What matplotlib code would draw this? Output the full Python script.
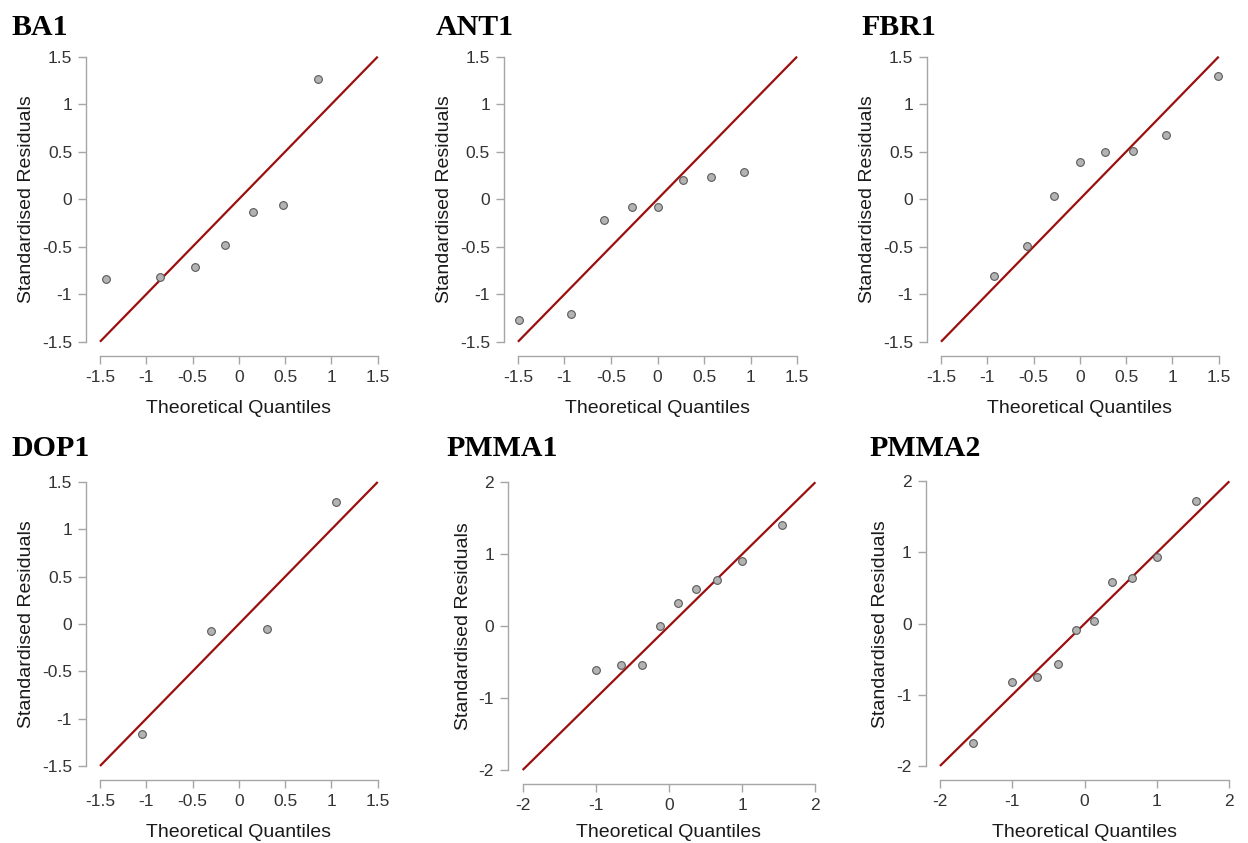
import matplotlib
matplotlib.use("Agg")
import matplotlib.pyplot as plt

# Normal Q-Q data per sample: theoretical quantiles and standardised residuals
ba1_x = [-1.434, -0.852, -0.473, -0.153, 0.153, 0.473, 0.852]
ba1_y = [-0.844, -0.816, -0.714, -0.479, -0.139, -0.065, 1.268]

ant1_x = [-1.494, -0.932, -0.572, -0.275, 0.0, 0.275, 0.572, 0.932]
ant1_y = [-1.272, -1.209, -0.219, -0.086, -0.079, 0.202, 0.237, 0.282]

fbr1_x = [-0.932, -0.572, -0.275, 0.0, 0.275, 0.572, 0.932, 1.494]
fbr1_y = [-0.805, -0.493, 0.033, 0.391, 0.497, 0.507, 0.679, 1.296]

dop1_x = [-1.049, -0.299, 0.299, 1.049]
dop1_y = [-1.162, -0.077, -0.049, 1.285]

pmma1_x = [-1.001, -0.655, -0.375, -0.123, 0.123, 0.375, 0.655, 1.001, 1.546]
pmma1_y = [-0.605, -0.540, -0.535, 0.002, 0.322, 0.512, 0.647, 0.911, 1.407]

pmma2_x = [-1.546, -1.001, -0.655, -0.375, -0.123, 0.123, 0.375, 0.655, 1.001, 1.546]
pmma2_y = [-1.677, -0.820, -0.749, -0.571, -0.084, 0.042, 0.585, 0.646, 0.937, 1.724]

titles = ["BA1", "ANT1", "FBR1", "DOP1", "PMMA1", "PMMA2"]
ticks_15 = [-1.5, -1, -0.5, 0, 0.5, 1, 1.5]
tick_labels_15 = ["-1.5", "-1", "-0.5", "0", "0.5", "1", "1.5"]
ticks_2 = [-2, -1, 0, 1, 2]
tick_labels_2 = ["-2", "-1", "0", "1", "2"]

W, H = 1248, 843
fig = plt.figure(figsize=(W / 100, H / 100), dpi=100)

# panel boxes in pixels: left, right, top, bottom; title anchor (x, baseline y);
# x-label padding
panels = [
    (ba1_x, ba1_y, 1.5, (86.1, 391.6, 42.4, 356.0), (12, 35), 11),
    (ant1_x, ant1_y, 1.5, (504.0, 811.0, 42.4, 356.0), (436, 35), 11),
    (fbr1_x, fbr1_y, 1.5, (927.1, 1232.6, 42.4, 356.0), (861, 35), 11),
    (dop1_x, dop1_y, 1.5, (86.1, 391.6, 467.8, 780.2), (12, 456), 11),
    (pmma1_x, pmma1_y, 2.0, (508.0, 830.0, 467.9, 784.4), (446, 456), 7.5),
    (pmma2_x, pmma2_y, 2.0, (925.5, 1243.8, 467.1, 780.2), (869, 456), 11),
]

spine_col = "#a6a6a6"
text_col = "#333333"

for (xs, ys, lim, box, tpos, xpad), title in zip(panels, titles):
    l, r, t, b = box
    ax = fig.add_axes([l / W, 1 - b / H, (r - l) / W, (b - t) / H])
    pad = lim * 2 * 0.05
    ax.set_xlim(-lim - pad, lim + pad)
    ax.set_ylim(-lim - pad, lim + pad)

    ax.plot([-lim, lim], [-lim, lim], color="#9b0f0f", lw=1.6, zorder=2,
            solid_capstyle="butt")
    ax.scatter(xs, ys, s=31, facecolor="#b3b3b3", edgecolor="#5a5a5a",
               linewidth=0.8, zorder=3)

    if lim == 1.5:
        ax.set_xticks(ticks_15, tick_labels_15)
        ax.set_yticks(ticks_15, tick_labels_15)
    else:
        ax.set_xticks(ticks_2, tick_labels_2)
        ax.set_yticks(ticks_2, tick_labels_2)

    for side in ("top", "right"):
        ax.spines[side].set_visible(False)
    for side in ("left", "bottom"):
        ax.spines[side].set_color(spine_col)
        ax.spines[side].set_linewidth(1.0)
    ax.spines["left"].set_bounds(-lim, lim)
    ax.spines["bottom"].set_bounds(-lim, lim)

    ax.tick_params(axis="both", length=5.5, width=1.0, color=spine_col,
                   labelcolor=text_col, labelsize=12.5, pad=4.5)
    for lab in ax.get_xticklabels() + ax.get_yticklabels():
        lab.set_fontfamily("Liberation Sans")

    ax.set_xlabel("Theoretical Quantiles", fontsize=14, color="#1a1a1a",
                  family="Liberation Sans", labelpad=xpad)
    ax.set_ylabel("Standardised Residuals", fontsize=14, color="#1a1a1a",
                  family="Liberation Sans", labelpad=5)

    fig.text(tpos[0] / W, 1 - tpos[1] / H, title, fontsize=21.5,
             fontweight="bold", family="Liberation Serif", color="black",
             ha="left", va="baseline")

fig.savefig("out.png", dpi=100, facecolor="white")
